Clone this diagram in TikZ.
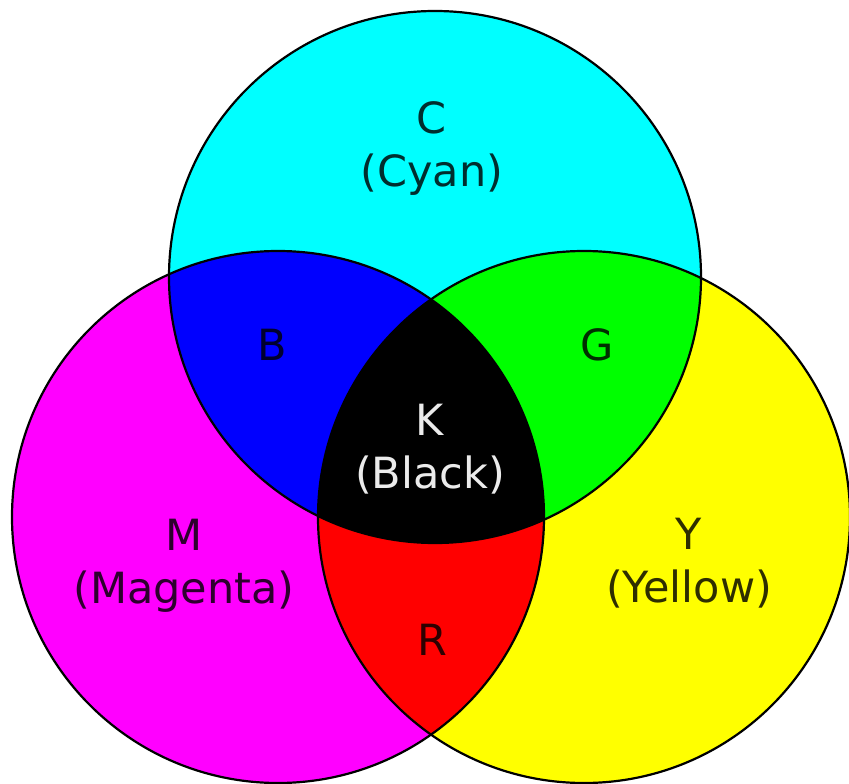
\documentclass[tikz,border=0pt]{standalone}
\usepackage{fontspec}
\setmainfont{DejaVu Sans}
\usetikzlibrary{positioning}
\definecolor{inkC}{HTML}{00FFFF}
\definecolor{inkM}{HTML}{FF00FF}
\definecolor{inkY}{HTML}{FFFF00}
\definecolor{mixB}{HTML}{0000FF}
\definecolor{mixG}{HTML}{00FF00}
\definecolor{mixR}{HTML}{FF0000}
\newcommand{\rad}{266pt}
\tikzset{
  rim/.style={draw=black,line width=2.2pt},
  lbl/.style={font=\fontsize{43}{53}\selectfont,align=center,text=black,text opacity=.82,inner sep=0pt},
  klbl/.style={lbl,text=white,text opacity=.92},
}
\begin{document}
\begin{tikzpicture}[x=1pt,y=-1pt]
\useasboundingbox (0,0) rectangle (849,784);
\coordinate (cyan) at (435,277);
\coordinate (magenta) at (278,517);
\coordinate (yellow) at (584,517);
% the three inks
\fill[inkC] (cyan) circle[radius=\rad];
\fill[inkM] (magenta) circle[radius=\rad];
\fill[inkY] (yellow) circle[radius=\rad];
% two inks
\begin{scope}
  \clip (magenta) circle[radius=\rad];
  \fill[mixR] (yellow) circle[radius=\rad];
\end{scope}
\begin{scope}
  \clip (cyan) circle[radius=\rad];
  \fill[mixB] (magenta) circle[radius=\rad];
  \fill[mixG] (yellow) circle[radius=\rad];
  % all three
  \clip (magenta) circle[radius=\rad];
  \fill[black] (yellow) circle[radius=\rad];
\end{scope}
\draw[rim] (cyan) circle[radius=\rad];
\draw[rim] (magenta) circle[radius=\rad];
\draw[rim] (yellow) circle[radius=\rad];
% labels
\node[lbl] (lc) at (432,148.5) {C\\(Cyan)};
\node[lbl] (lm) at (184,565.5) {M\\(Magenta)};
\node[lbl] (ly) at (689,563) {Y\\(Yellow)};
\node[lbl] (lb) at (272,345) {B};
\node[lbl] (lg) at (597,345) {G};
\node[lbl] (lr) at (432,640) {R};
\node[klbl] (lk) at (430,449.5) {K\\(Black)};
\end{tikzpicture}
\end{document}
